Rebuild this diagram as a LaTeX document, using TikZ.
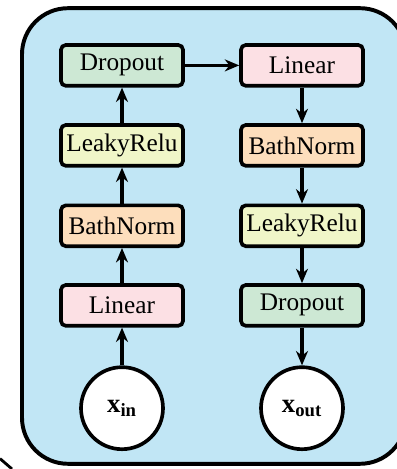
\documentclass[tikz,border=0pt]{standalone}
\usepackage{fontspec}
\setmainfont{Liberation Serif}
\usetikzlibrary{arrows.meta}
\definecolor{panelblue}{RGB}{193,230,245}
\definecolor{dropgreen}{RGB}{205,232,212}
\definecolor{leakyyellow}{RGB}{240,246,200}
\definecolor{bathorange}{RGB}{253,222,188}
\definecolor{linpink}{RGB}{252,224,228}
\begin{document}
\begin{tikzpicture}[line width = 2.6pt,
                        layer/.style = {draw, rounded corners = 0.12cm, minimum width = 3.05cm,
                                        minimum height = 1.02cm, font = \fontsize{18}{20}\selectfont},
                        io/.style = {circle, draw, fill = white, minimum size = 2.05cm, inner sep = 0pt,
                                     font = \fontsize{19}{20}\selectfont\bfseries},
                        flow/.style = {-{Stealth[length = 0.36cm, width = 0.3cm]}}]
      \useasboundingbox (0, 0) rectangle (9.9, 11.725);
      \draw [fill = panelblue, line width = 2.8pt, rounded corners = 1.15cm] (0.55, 0.13) rectangle (10.15, 11.52);
      \draw [line width = 2pt] (0, 0.26) -- (0.3, 0);
      % left column
      \node [io] (xin) at (3.05, 1.52){x\textsubscript{in}};
      \node [layer, fill = linpink] (lin1) at (3.05, 4.09){Linear};
      \node [layer, fill = bathorange] (bn1) at (3.05, 6.08){BathNorm};
      \node [layer, fill = leakyyellow] (relu1) at (3.05, 8.09){LeakyRelu};
      \node [layer, fill = dropgreen] (drop1) at (3.05, 10.09){Dropout};
      % right column
      \node [layer, fill = linpink] (lin2) at (7.55, 10.09){Linear};
      \node [layer, fill = bathorange] (bn2) at (7.55, 8.09){BathNorm};
      \node [layer, fill = leakyyellow] (relu2) at (7.55, 6.08){LeakyRelu};
      \node [layer, fill = dropgreen] (drop2) at (7.55, 4.09){Dropout};
      \node [io] (xout) at (7.55, 1.52){x\textsubscript{out}};
      \draw [flow] (xin) -- (lin1);
      \draw [flow] (lin1) -- (bn1);
      \draw [flow] (bn1) -- (relu1);
      \draw [flow] (relu1) -- (drop1);
      \draw [flow] (drop1) -- (lin2);
      \draw [flow] (lin2) -- (bn2);
      \draw [flow] (bn2) -- (relu2);
      \draw [flow] (relu2) -- (drop2);
      \draw [flow] (drop2) -- (xout);
    \end{tikzpicture}
\end{document}
